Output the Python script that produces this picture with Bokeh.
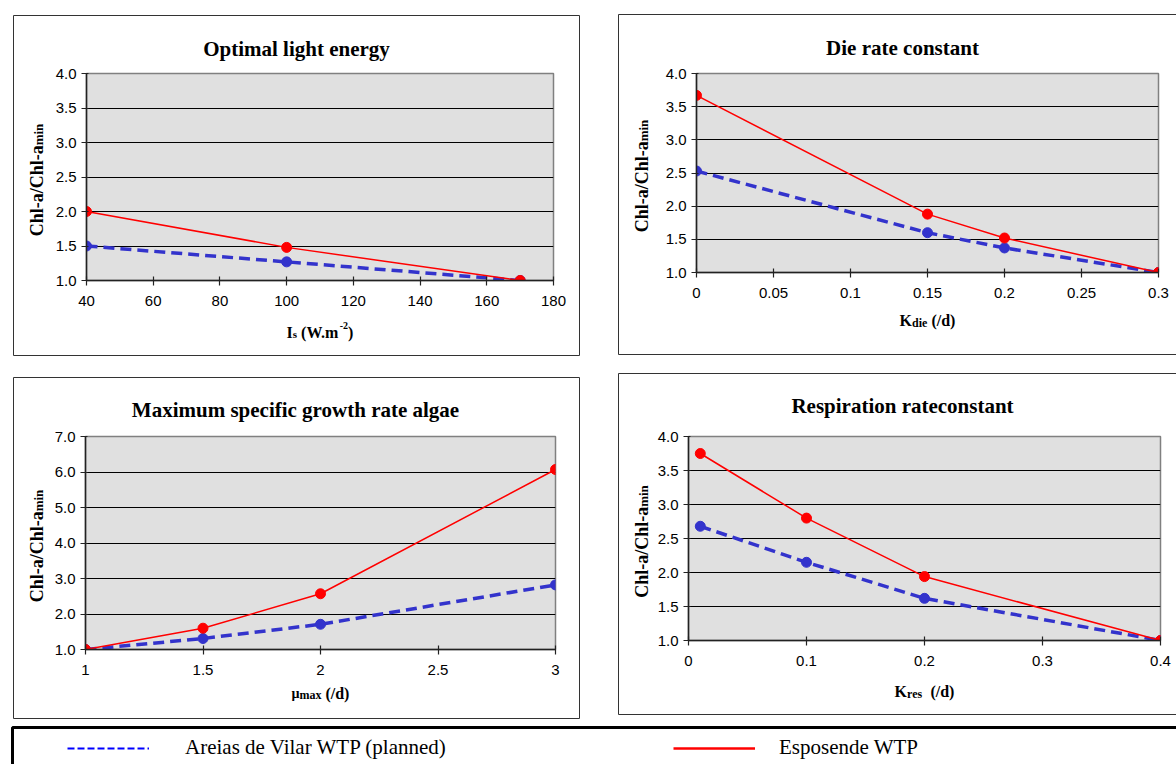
import math
from bokeh.plotting import figure
from bokeh.models import (Range1d, FixedTicker, NumeralTickFormatter,
                          BoxAnnotation, Legend, LegendItem, ColumnDataSource)
from bokeh.core.properties import value
from bokeh.layouts import column, row
from bokeh.embed import file_html
from bokeh.resources import INLINE

# ---------------- data ----------------
ls_x = [40, 100, 170]
ls_vilar = [1.50, 1.27, 1.00]
ls_esp = [2.00, 1.48, 1.00]

kdie_x = [0, 0.15, 0.2, 0.3]
kdie_vilar = [2.53, 1.60, 1.37, 1.00]
kdie_esp = [3.67, 1.88, 1.52, 1.00]

mu_x = [1, 1.5, 2, 3]
mu_vilar = [1.00, 1.31, 1.71, 2.82]
mu_esp = [1.00, 1.60, 2.57, 6.07]

kres_x = [0.01, 0.1, 0.2, 0.4]
kres_vilar = [2.68, 2.15, 1.62, 1.00]
kres_esp = [3.75, 2.80, 1.94, 1.00]

titles = ["Optimal light energy", "Die rate constant",
          "Maximum specific growth rate algae", "Respiration rateconstant"]
ls_ticks = [40, 60, 80, 100, 120, 140, 160, 180]
kdie_ticks = [0, 0.05, 0.1, 0.15, 0.2, 0.25, 0.3]
mu_ticks = [1, 1.5, 2, 2.5, 3]
kres_ticks = [0, 0.1, 0.2, 0.3, 0.4]
y4_ticks = [1.0, 1.5, 2.0, 2.5, 3.0, 3.5, 4.0]
y7_ticks = [1.0, 2.0, 3.0, 4.0, 5.0, 6.0, 7.0]
series_names = ["Areias de Vilar WTP (planned)", "Esposende WTP"]

BLUE = "#3333CC"
RED = "#FF0000"
SERIF = "Liberation Serif"
SANS = "Liberation Sans"

# Times-Bold advance widths (per 1000 em) for composing labels
TB = {' ': 250, '(': 333, ')': 333, '/': 278, '-': 333, '.': 250, 'A': 722,
      'C': 722, 'I': 389, 'K': 778, 'W': 1000, 'a': 500, 'd': 556, 'e': 444,
      'h': 556, 'i': 278, 'l': 278, 'm': 833, 'n': 556, 'r': 444, 's': 389,
      'x': 500, 'µ': 556, '2': 500}


def tw(s, size):
    return sum(TB.get(c, 500) for c in s) / 1000.0 * size


def make_panel(spec):
    cx, cy, cw, ch = spec["canvas"]
    fl, fr, ft, fb = spec["frame"]
    x0, x1 = spec["xr"]
    y0, y1 = spec["yr"]

    def X(px):
        return x0 + (px - fl) / (fr - fl) * (x1 - x0)

    def Y(py):
        return y0 + (fb - py) / (fb - ft) * (y1 - y0)

    p = figure(frame_width=fr - fl, frame_height=fb - ft,
               min_border_left=fl - cx, min_border_right=cx + cw - fr,
               min_border_top=ft - cy, min_border_bottom=cy + ch - fb,
               x_range=Range1d(x0, x1), y_range=Range1d(y0, y1),
               toolbar_location=None, output_backend="svg",
               background_fill_color="#E0E0E0", border_fill_color="white",
               outline_line_color="#808080", outline_line_width=1.5)
    p.xgrid.visible = False
    p.ygrid.grid_line_color = "black"
    p.ygrid.grid_line_width = 1

    p.xaxis.ticker = FixedTicker(ticks=spec["xticks"])
    p.xaxis.formatter = NumeralTickFormatter(format=spec["xfmt"])
    p.yaxis.ticker = FixedTicker(ticks=spec["yticks"])
    p.yaxis.formatter = NumeralTickFormatter(format="0.0")
    for ax in (p.xaxis, p.yaxis):
        ax.minor_tick_line_color = None
        ax.axis_line_color = "#222222"
        ax.axis_line_width = 1.5
        ax.major_tick_line_color = "#222222"
        ax.major_tick_line_width = 1.2
        ax.major_tick_out = 5
        ax.major_label_text_font = SANS
        ax.major_label_text_font_size = "15px"
        ax.major_label_text_color = "black"
    p.xaxis.major_tick_in = 4
    p.yaxis.major_tick_in = 2
    p.xaxis.major_label_standoff = 10
    p.yaxis.major_label_standoff = 5

    src = ColumnDataSource(dict(x=spec["xs"], v=spec["vilar"], e=spec["esp"]))
    p.line("x", "v", source=src, line_color=BLUE, line_width=3.5, line_dash="11 6")
    p.scatter("x", "v", source=src, size=10, fill_color=BLUE, line_color=BLUE)
    p.line("x", "e", source=src, line_color=RED, line_width=1.5)
    p.scatter("x", "e", source=src, size=10, fill_color=RED, line_color=RED)

    # chart-area box (drawn on the overlay level so it is not clipped)
    bl, br, bt, bb = spec["box"]
    bx0, bx1, by0, by1 = X(bl), X(br), Y(bb), Y(bt)
    p.segment(x0=[bx0, bx0, bx0, bx1], y0=[by1, by0, by0, by0],
              x1=[bx1, bx1, bx0, bx1], y1=[by1, by0, by1, by1],
              line_color="#333333", line_width=1, level="overlay")

    def txt(px, py, t, size, align="left", angle=0.0):
        p.text(x=[X(px)], y=[Y(py)], text=[t], angle=angle,
               text_align=align, text_baseline="alphabetic",
               text_font=value(SERIF), text_font_size="%dpx" % size,
               text_font_style="bold", text_color="black", level="overlay")

    # title
    tcx, tby = spec["title_pos"]
    txt(tcx, tby, spec["title"], 21, align="center")

    # x axis label (composite with sub/superscripts)
    parts = spec["xlabel"]
    total = sum(tw(t, s) for t, s, d in parts)
    xs = (fl + fr) / 2.0 - total / 2.0
    base = spec["xlab_base"]
    for t, s, d in parts:
        core = t.lstrip(" ")
        xs += tw(t[:len(t) - len(core)], s)
        txt(xs, base + d, core, s)
        xs += tw(core, s)

    # y axis label, rotated
    main_t, main_s = "Chl-a/Chl-a", 18
    sub_t, sub_s = "min", 13
    wm = tw(main_t, main_s)
    wsub = tw(sub_t, sub_s)
    start = (ft + fb) / 2.0 + 3 + (wm + wsub) / 2.0
    bx = spec["ylab_x"]
    txt(bx, start, main_t, main_s, angle=math.pi / 2)
    txt(bx + 2, start - wm, sub_t, sub_s, angle=math.pi / 2)
    return p


specs = [
    dict(title=titles[0], xs=ls_x, vilar=ls_vilar, esp=ls_esp,
         xr=(40, 180), yr=(1, 4), xticks=ls_ticks, xfmt="0", yticks=y4_ticks,
         canvas=(0, 0, 600, 363), frame=(86, 553, 72, 279),
         box=(13, 579, 14, 354), title_pos=(296, 47),
         xlabel=[("I", 16, 0), ("s", 11, 1), (" (W.m", 16, 0), ("-2", 10, -7), (")", 16, 0)],
         xlab_base=331, ylab_x=36),
    dict(title=titles[1], xs=kdie_x, vilar=kdie_vilar, esp=kdie_esp,
         xr=(0, 0.3), yr=(1, 4), xticks=kdie_ticks, xfmt="0.[00]", yticks=y4_ticks,
         canvas=(600, 0, 576, 363), frame=(696, 1158, 73, 272),
         box=(618, 1200, 14, 354), title_pos=(902, 47),
         xlabel=[("K", 16, 0), ("die", 12, 2), (" (/d)", 16, 0)],
         xlab_base=320, ylab_x=641),
    dict(title=titles[2], xs=mu_x, vilar=mu_vilar, esp=mu_esp,
         xr=(1, 3), yr=(1, 7), xticks=mu_ticks, xfmt="0.[0]", yticks=y7_ticks,
         canvas=(0, 363, 600, 357), frame=(85, 555, 432, 645),
         box=(13, 579, 373, 714), title_pos=(295, 405),
         xlabel=[("µ", 14, 0), ("max", 12, 1), (" (/d)", 16, 0)],
         xlab_base=689, ylab_x=36),
    dict(title=titles[3], xs=kres_x, vilar=kres_vilar, esp=kres_esp,
         xr=(0, 0.4), yr=(1, 4), xticks=kres_ticks, xfmt="0.[0]", yticks=y4_ticks,
         canvas=(600, 363, 576, 357), frame=(688, 1160, 436, 640),
         box=(618, 1200, 373, 714), title_pos=(902, 405),
         xlabel=[("K", 16, 0), ("res", 12, 2), ("  (/d)", 16, 0)],
         xlab_base=691, ylab_x=641),
]

panels = [make_panel(s) for s in specs]

# ---------------- legend strip ----------------
LW, LH = 1176, 44
leg = figure(width=LW, height=LH, x_range=Range1d(0, LW), y_range=Range1d(0, LH),
             toolbar_location=None, output_backend="svg",
             min_border_left=0, min_border_right=0, min_border_top=0, min_border_bottom=0,
             outline_line_color=None, background_fill_color="white",
             border_fill_color="white")
leg.axis.visible = False
leg.grid.visible = False
nan = float("nan")
r_blue = leg.line(x=[nan], y=[nan], line_color="#0000FF", line_width=2, line_dash="7 3")
r_red = leg.line(x=[nan], y=[nan], line_color="#FF0000", line_width=2.5)
leg.add_layout(BoxAnnotation(left=12, right=LW + 40, top=LH - 7, bottom=-30,
                             fill_color=None, fill_alpha=0, line_alpha=1,
                             line_color="black", line_width=3))
for rend, name, lx, so in ((r_blue, series_names[0], 67, 36), (r_red, series_names[1], 673, 24)):
    lg = Legend(items=[LegendItem(label=name, renderers=[rend])],
                location=(lx, 4), orientation="horizontal",
                glyph_width=82, glyph_height=24, label_height=24,
                label_standoff=so, padding=0, margin=0, spacing=0,
                border_line_color=None, background_fill_alpha=0,
                label_text_font=SERIF, label_text_font_size="21px",
                label_text_color="black")
    leg.add_layout(lg, "center")

layout = column(row(panels[0], panels[1]), row(panels[2], panels[3]), leg)

with open("out.html", "w") as f:
    f.write(file_html(layout, INLINE))
